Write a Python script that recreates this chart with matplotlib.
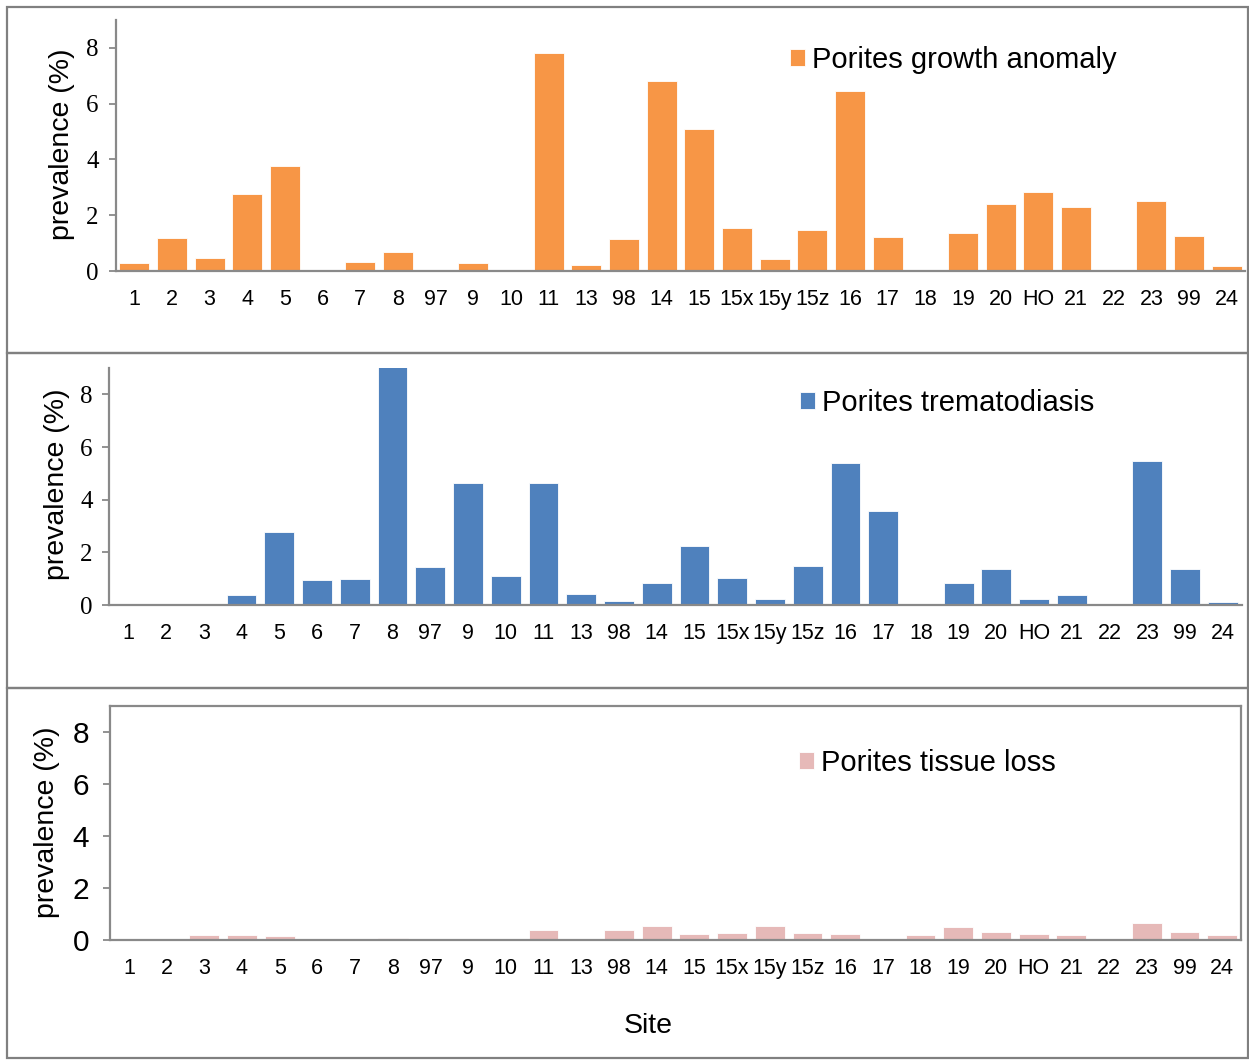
import matplotlib
matplotlib.use("Agg")
import matplotlib.pyplot as plt
from matplotlib.patches import Rectangle

SITES = ["1", "2", "3", "4", "5", "6", "7", "8", "97", "9", "10", "11", "13", "98",
         "14", "15", "15x", "15y", "15z", "16", "17", "18", "19", "20", "HO", "21",
         "22", "23", "99", "24"]

growth_anomaly = [0.3, 1.2, 0.48, 2.75, 3.75, 0, 0.33, 0.68, 0, 0.27, 0, 7.8, 0.22, 1.15,
                  6.8, 5.1, 1.55, 0.43, 1.48, 6.45, 1.22, 0.05, 1.35, 2.4, 2.85, 2.28,
                  0, 2.5, 1.25, 0.18]
trematodiasis = [0.05, 0, 0, 0.37, 2.77, 0.95, 1.0, 9.4, 1.45, 4.63, 1.12, 4.62, 0.4, 0.15,
                 0.83, 2.25, 1.03, 0.22, 1.48, 5.4, 3.57, 0, 0.83, 1.36, 0.22, 0.37,
                 0, 5.45, 1.35, 0.1]
tissue_loss = [0, 0.05, 0.18, 0.2, 0.15, 0, 0, 0.08, 0.02, 0.02, 0.02, 0.37, 0.02, 0.37,
               0.52, 0.22, 0.27, 0.55, 0.28, 0.22, 0, 0.2, 0.5, 0.3, 0.22, 0.18,
               0, 0.65, 0.3, 0.18]

SANS = "Liberation Sans"
SERIF = "Liberation Serif"
GREY = "#898989"

W, H = 1249, 1061
fig = plt.figure(figsize=(W / 100, H / 100), dpi=100)


def px_axes(left, right, top, bottom):
    return fig.add_axes([left / W, 1 - bottom / H, (right - left) / W, (bottom - top) / H])


def panel_box(top, bottom):
    fig.patches.append(Rectangle((7 / W, 1 - bottom / H), (W - 8) / W, (bottom - top) / H,
                                 transform=fig.transFigure, fill=False,
                                 edgecolor="#808080", lw=1.6))


def draw_panel(ax, values, color, label, tick_font, tick_size, ypad, boxed, legend_xy):
    x = range(len(SITES))
    ax.bar(x, values, width=0.79, color=color, edgecolor="white", linewidth=0.6,
           label=label, zorder=2)
    ax.set_xlim(-0.5, len(SITES) - 0.5)
    ax.set_ylim(0, 9)
    ax.set_yticks([0, 2, 4, 6, 8])
    ax.set_xticks(list(x))
    ax.set_xticklabels(SITES, fontfamily=SANS, fontsize=15.5)
    for t in ax.get_yticklabels():
        t.set_fontfamily(tick_font)
        t.set_fontsize(tick_size)
    ax.tick_params(axis="x", length=0, pad=13)
    ax.tick_params(axis="y", length=5, width=1.3, color=GREY, pad=ypad)
    for side in ["left", "bottom", "top", "right"]:
        ax.spines[side].set_color(GREY)
        ax.spines[side].set_linewidth(1.6)
    if not boxed:
        ax.spines["top"].set_visible(False)
        ax.spines["right"].set_visible(False)
    ax.spines["bottom"].set_zorder(3)
    leg = ax.legend(loc="center left", bbox_to_anchor=legend_xy, frameon=False,
                    borderpad=0, borderaxespad=0, handlelength=0.5, handleheight=0.5,
                    handletextpad=0.25, prop={"family": SANS, "size": 21})
    return leg


# panel borders
panel_box(7, 353)
panel_box(353, 688)
panel_box(688, 1058)

ax1 = px_axes(115.5, 1245.5, 20, 271)
draw_panel(ax1, growth_anomaly, "#F79646", "Porites growth anomaly", SERIF, 18, 7, False,
           ((790 - 115.5) / 1130, (271 - 60) / 251))

ax2 = px_axes(109.5, 1241.7, 368, 605)
draw_panel(ax2, trematodiasis, "#4F81BD", "Porites trematodiasis", SERIF, 18, 7, False,
           ((800 - 109.5) / 1132.2, (605 - 403) / 237))

ax3 = px_axes(110, 1241, 706, 940)
draw_panel(ax3, tissue_loss, "#E6B9B8", "Porites tissue loss", SANS, 21.5, 10, True,
           ((799 - 110) / 1131, (940 - 763) / 234))

# y labels
for xc, yc in [(62, 144), (57, 484), (47, 822)]:
    fig.text(xc / W, 1 - yc / H, "prevalence (%)", rotation=90, ha="center", va="center",
             fontfamily=SANS, fontsize=20.5)

fig.text(648 / W, 1 - 1026 / H, "Site", ha="center", va="center", fontfamily=SANS,
         fontsize=20.5)

fig.savefig("out.png", dpi=100)
